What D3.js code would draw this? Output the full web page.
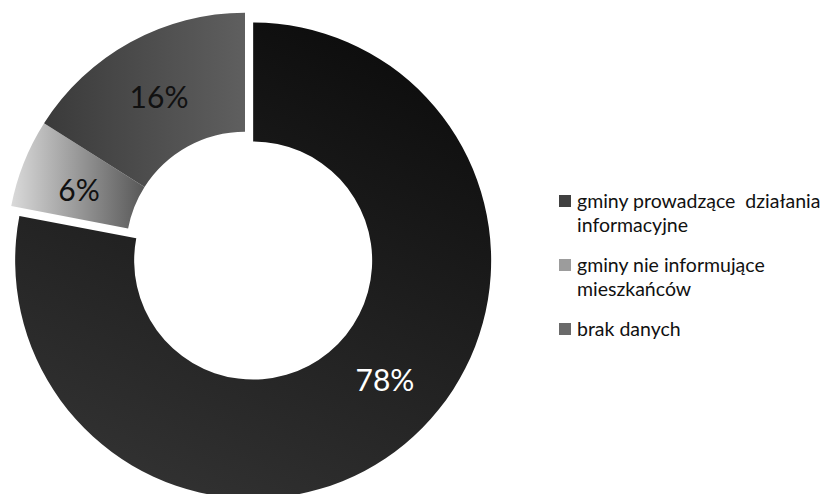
<!DOCTYPE html>
<html>
<head>
<meta charset="utf-8">
<script src="https://cdn.jsdelivr.net/npm/d3@7"></script>
<style>
  html, body { margin: 0; padding: 0; background: #ffffff; }
  svg { display: block; }
</style>
</head>
<body>
<svg id="chart" width="822" height="494"></svg>
<script>
// ---- data ----
const categories = ["gminy prowadzące działania informacyjne", "gminy nie informujące mieszkańców", "brak danych"];
const legendLines = [["gminy prowadzące  działania", "informacyjne"], ["gminy nie informujące", "mieszkańców"], ["brak danych"]];
const values = [78, 6, 16];
const valueLabels = ["78%", "6%", "16%"];
const legendColors = ["#404040", "#9c9c9c", "#6a6a6a"];

// ---- layout / style ----
const W = 822, H = 494;
const cx = 245, cy = 250.7, R = 238, r = 119;
const explode = [12.8, 0, 0];
const labelNudge = [[18, -18], [0, 5], [0, 3]];
const labelColors = ["#ffffff", "#111111", "#111111"];
const gradStops = [
  { x1: 0.75, y1: 0, x2: 0.3, y2: 1, stops: [["0%", "#0c0c0c"], ["100%", "#323232"]] },
  { x1: 0, y1: 0, x2: 1, y2: 0, stops: [["0%", "#dadada"], ["100%", "#575757"]] },
  { x1: 0, y1: 0, x2: 1, y2: 0, stops: [["0%", "#3a3a3a"], ["100%", "#5f5f5f"]] }
];

const svg = d3.select("#chart");
const defs = svg.append("defs");
gradStops.forEach((g, i) => {
  const lg = defs.append("linearGradient").attr("id", "g" + i)
    .attr("x1", g.x1).attr("y1", g.y1).attr("x2", g.x2).attr("y2", g.y2);
  g.stops.forEach(s => lg.append("stop").attr("offset", s[0]).attr("stop-color", s[1]));
});

const pie = d3.pie().sort(null).value(d => d).startAngle(0).endAngle(2 * Math.PI);
const arcs = pie(values);
const arc = d3.arc().innerRadius(r).outerRadius(R);
const labelArc = d3.arc().innerRadius((R + r) / 2).outerRadius((R + r) / 2);

const g = svg.append("g").attr("transform", `translate(${cx},${cy})`);

const slices = g.selectAll("g.slice").data(arcs).enter().append("g")
  .attr("class", "slice")
  .attr("transform", (d, i) => {
    const a = (d.startAngle + d.endAngle) / 2;
    return `translate(${Math.sin(a) * explode[i]},${-Math.cos(a) * explode[i]})`;
  });

slices.append("path")
  .attr("d", arc)
  .attr("fill", (d, i) => `url(#g${i})`);

slices.append("text")
  .attr("transform", (d, i) => {
    const c = labelArc.centroid(d);
    return `translate(${c[0] + labelNudge[i][0]},${c[1] + labelNudge[i][1]})`;
  })
  .attr("text-anchor", "middle")
  .attr("dy", "0.36em")
  .attr("font-family", "Lato, 'Open Sans', sans-serif")
  .attr("font-size", 30)
  .attr("fill", (d, i) => labelColors[i])
  .text((d, i) => valueLabels[i]);

// ---- legend ----
const legend = svg.append("g").attr("transform", "translate(559,0)");
const itemY = [208, 272, 336];
categories.forEach((c, i) => {
  const item = legend.append("g").attr("transform", `translate(0,${itemY[i]})`);
  item.append("rect").attr("x", 0).attr("y", -13).attr("width", 12).attr("height", 12)
    .attr("fill", legendColors[i]);
  const t = item.append("text").attr("x", 18).attr("y", 0)
    .attr("font-family", "Lato, 'Open Sans', sans-serif")
    .attr("font-size", 19.5)
    .attr("fill", "#111")
    .attr("xml:space", "preserve")
    .style("white-space", "pre");
  legendLines[i].forEach((ln, j) => {
    t.append("tspan").attr("x", 18).attr("y", j * 23.5).text(ln);
  });
});
</script>
</body>
</html>
